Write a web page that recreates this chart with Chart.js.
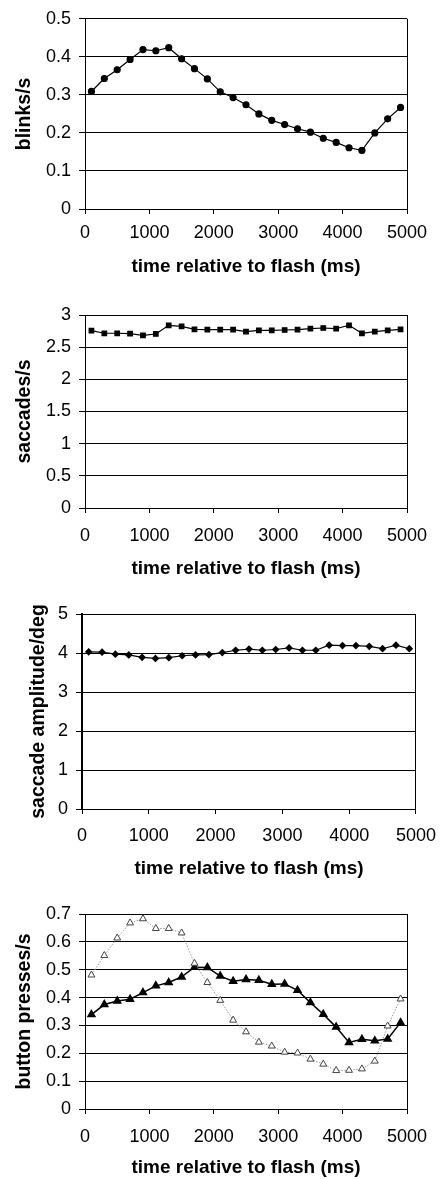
<!DOCTYPE html>
<html lang="en">
<head>
<meta charset="UTF-8">
<title>blinks, saccades and button presses</title>
<script src="https://cdn.jsdelivr.net/npm/chart.js"></script>
<style>
  body { margin: 0; background: #fff; }
  .painel { position: absolute; left: 0; width: 447px; }
</style>
</head>
<body>
<div class="painel" id="p1" style="top:0px;height:290px"><canvas id="c1"></canvas></div>
<div class="painel" id="p2" style="top:290px;height:295px"><canvas id="c2"></canvas></div>
<div class="painel" id="p3" style="top:585px;height:300px"><canvas id="c3"></canvas></div>
<div class="painel" id="p4" style="top:885px;height:294px"><canvas id="c4"></canvas></div>
<script>
// time bins (ms)
const tempos = [100, 300, 500, 700, 900, 1100, 1300, 1500, 1700, 1900, 2100, 2300, 2500,
  2700, 2900, 3100, 3300, 3500, 3700, 3900, 4100, 4300, 4500, 4700, 4900];

const piscadas = [0.309, 0.343, 0.366, 0.393, 0.419, 0.416, 0.424, 0.395, 0.369, 0.342, 0.308, 0.293, 0.274,
  0.250, 0.233, 0.222, 0.211, 0.202, 0.186, 0.175, 0.161, 0.154, 0.200, 0.237, 0.267];

const sacadas = [2.757, 2.716, 2.716, 2.710, 2.684, 2.705, 2.840, 2.824, 2.778, 2.772, 2.772, 2.772, 2.741,
  2.762, 2.762, 2.767, 2.772, 2.788, 2.798, 2.788, 2.840, 2.716, 2.741, 2.762, 2.778];

const amplitude = [4.03, 4.02, 3.97, 3.95, 3.89, 3.86, 3.88, 3.93, 3.95, 3.96, 4.01, 4.07, 4.10,
  4.07, 4.09, 4.13, 4.07, 4.07, 4.20, 4.19, 4.19, 4.17, 4.11, 4.20, 4.11];

const botaoCheio = [0.339, 0.375, 0.388, 0.394, 0.418, 0.442, 0.454, 0.474, 0.509, 0.508, 0.477, 0.459, 0.465,
  0.462, 0.448, 0.449, 0.426, 0.382, 0.340, 0.294, 0.239, 0.250, 0.245, 0.251, 0.310];

const botaoVazio = [0.481, 0.551, 0.614, 0.668, 0.683, 0.648, 0.648, 0.632, 0.523, 0.454, 0.390, 0.319, 0.277,
  0.240, 0.226, 0.204, 0.201, 0.179, 0.161, 0.138, 0.139, 0.144, 0.172, 0.298, 0.395];

const tituloX = 'time relative to flash (ms)';
const titulosY = ['blinks/s', 'saccades/s', 'saccade amplitude/deg', 'button presses/s'];
const limitesY = [[0, 0.5, 0.1], [0, 3, 0.5], [0, 5, 1], [0, 0.7, 0.1]];

function pontos(valores) {
  return tempos.map((t, i) => ({ x: t, y: valores[i] }));
}

// plain numbers, no thousands separator, no trailing zeros
function rotulo(v) {
  return String(Number(v.toFixed(3)));
}

// layout of each panel: plot box edges inside its own canvas
const layouts = [
  { esq: 85, dir: 40, topo: 15, eixoX: 81, padTick: 8,  padTitulo: 12, tituloY: 13 },
  { esq: 85, dir: 40, topo: 25, eixoX: 77, padTick: 12, padTitulo: 5,  tituloY: 13 },
  { esq: 82, dir: 26, topo: 29, eixoX: 76, padTick: 11, padTitulo: 5,  tituloY: 27 },
  { esq: 85, dir: 40, topo: 29, eixoX: 70, padTick: 12, padTitulo: 0,  tituloY: 13 }
];

function desenhar(id, n, datasets) {
  const L = layouts[n];
  const [minY, maxY, passoY] = limitesY[n];
  new Chart(document.getElementById(id), {
    type: 'line',
    data: { datasets: datasets },
    options: {
      responsive: true,
      maintainAspectRatio: false,
      animation: false,
      layout: { padding: { top: L.topo, right: L.dir, left: 0, bottom: 0 } },
      plugins: { legend: { display: false }, tooltip: { enabled: false } },
      scales: {
        x: {
          type: 'linear', min: 0, max: 5000,
          afterFit: s => { s.height = L.eixoX; },
          ticks: { stepSize: 1000, color: '#000', padding: L.padTick, callback: rotulo,
                   font: { family: 'Liberation Sans', size: 18 }, maxRotation: 0 },
          grid: { color: c => c.tick && c.tick.value === 5000 ? '#000' : 'rgba(0,0,0,0)',
                  tickColor: '#000', tickLength: 5, lineWidth: 1 },
          border: { color: '#000', width: 1 },
          title: { display: true, text: tituloX, color: '#000',
                   font: { family: 'Liberation Sans', size: 19, weight: 'bold' },
                   padding: { top: 0, bottom: L.padTitulo } }
        },
        y: {
          min: minY, max: maxY,
          afterFit: s => { s.width = L.esq; },
          ticks: { stepSize: passoY, color: '#000', padding: 8, callback: rotulo,
                   font: { family: 'Liberation Sans', size: 18 } },
          grid: { color: '#000', tickColor: '#000', tickLength: 6, lineWidth: 1 },
          border: { color: '#000', width: n === 2 ? 2 : 1 },
          title: { display: true, text: titulosY[n], color: '#000',
                   font: { family: 'Liberation Sans', size: 19.5, weight: 'bold' },
                   padding: { top: L.tituloY, bottom: 0 } }
        }
      }
    }
  });
}

desenhar('c1', 0, [{
  data: pontos(piscadas), borderColor: '#000', borderWidth: 1.2,
  pointStyle: 'circle', pointRadius: 3, pointBackgroundColor: '#000', pointBorderColor: '#000'
}]);

desenhar('c2', 1, [{
  data: pontos(sacadas), borderColor: '#000', borderWidth: 1.2,
  pointStyle: 'rect', pointRadius: 3.2, pointBackgroundColor: '#000', pointBorderColor: '#000'
}]);

desenhar('c3', 2, [{
  data: pontos(amplitude), borderColor: '#000', borderWidth: 1.2,
  pointStyle: 'rectRot', pointRadius: 3, pointBackgroundColor: '#000', pointBorderColor: '#000'
}]);

desenhar('c4', 3, [{
  data: pontos(botaoVazio), borderColor: '#999', borderWidth: 1, borderDash: [1.5, 1.5],
  pointStyle: 'triangle', pointRadius: 4, pointBackgroundColor: '#fff', pointBorderColor: '#444', pointBorderWidth: 1
}, {
  data: pontos(botaoCheio), borderColor: '#000', borderWidth: 1.5,
  pointStyle: 'triangle', pointRadius: 4, pointBackgroundColor: '#000', pointBorderColor: '#000'
}]);
</script>
</body>
</html>
